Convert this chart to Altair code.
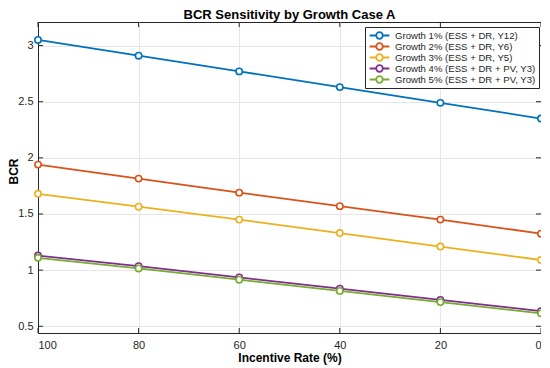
import altair as alt
import pandas as pd

rates = [100, 80, 60, 40, 20, 0]
series_names = [
    "Growth 1% (ESS + DR, Y12)",
    "Growth 2% (ESS + DR, Y6)",
    "Growth 3% (ESS + DR, Y5)",
    "Growth 4% (ESS + DR + PV, Y3)",
    "Growth 5% (ESS + DR + PV, Y3)",
]
g1 = [3.05, 2.91, 2.77, 2.63, 2.49, 2.35]
g2 = [1.94, 1.815, 1.69, 1.57, 1.45, 1.325]
g3 = [1.68, 1.565, 1.45, 1.33, 1.21, 1.09]
g4 = [1.13, 1.035, 0.935, 0.835, 0.735, 0.635]
g5 = [1.11, 1.015, 0.915, 0.815, 0.715, 0.615]
colors = ["#0072BD", "#D95319", "#EDB120", "#7E2F8E", "#77AC30"]
x_ticks = [0, 20, 40, 60, 80, 100]
y_ticks = [0.5, 1, 1.5, 2, 2.5, 3]

rows = []
for i, (name, vals) in enumerate(zip(series_names, [g1, g2, g3, g4, g5])):
    for r, v in zip(rates, vals):
        rows.append({"Series": name, "Rate": r, "BCR": v})
df = pd.DataFrame(rows)
xt = pd.DataFrame({"Rate": x_ticks})
yt = pd.DataFrame({"BCR": y_ticks})

FONT = "Liberation Sans"
W, H = 503, 311
TK = 5

legend_symbol = (
    "M-2.2,0 L-0.73,0 M0.73,0 L2.2,0 "
    "M0.73,0 A0.73,0.73 0 1,1 -0.73,0 A0.73,0.73 0 1,1 0.73,0 Z"
)

xscale = alt.Scale(domain=[0, 100], reverse=True, nice=False)
yscale = alt.Scale(domain=[0.44, 3.21], nice=False, zero=False)
cscale = alt.Scale(domain=series_names, range=colors)

color = alt.Color(
    "Series:N",
    scale=cscale,
    sort=series_names,
    legend=alt.Legend(
        title=None,
        orient="none",
        legendX=327,
        legendY=5,
        symbolType=legend_symbol,
        symbolSize=81,
        symbolStrokeWidth=1.8,
        symbolFillColor="white",
        labelFont=FONT,
        labelFontSize=9.6,
        labelColor="#262626",
        rowPadding=0,
        clipHeight=11,
        padding=3,
        strokeColor="#262626",
        fillColor="white",
        labelOffset=10,
        symbolOffset=6,
    ),
)

x = alt.X(
    "Rate:Q",
    scale=xscale,
    axis=alt.Axis(title="Incentive Rate (%)", values=x_ticks),
)
y = alt.Y(
    "BCR:Q",
    scale=yscale,
    axis=alt.Axis(
        title="BCR",
        values=y_ticks,
        format="~g",
        titleX=-21,
        titleY=149,
        titleAngle=-90,
        titleBaseline="alphabetic",
    ),
)

base = alt.Chart(df)
lines = base.mark_line(strokeWidth=1.8).encode(
    x=x, y=y, color=color, detail="Series:N", order="Rate:Q"
)
points = base.mark_point(
    shape="circle", filled=False, fill="white", size=40, strokeWidth=1.6, opacity=1
).encode(x=x, y=y, color=alt.Color("Series:N", scale=cscale, legend=None))

tick_color = "#262626"
xt_bottom = alt.Chart(xt).mark_rule(color=tick_color, strokeWidth=1).encode(
    x=alt.X("Rate:Q", scale=xscale), y=alt.value(H), y2=alt.value(H - TK)
)
xt_top = alt.Chart(xt).mark_rule(color=tick_color, strokeWidth=1).encode(
    x=alt.X("Rate:Q", scale=xscale), y=alt.value(0), y2=alt.value(TK)
)
yt_left = alt.Chart(yt).mark_rule(color=tick_color, strokeWidth=1).encode(
    y=alt.Y("BCR:Q", scale=yscale), x=alt.value(0), x2=alt.value(TK)
)
yt_right = alt.Chart(yt).mark_rule(color=tick_color, strokeWidth=1).encode(
    y=alt.Y("BCR:Q", scale=yscale), x=alt.value(W), x2=alt.value(W - TK)
)

chart = (
    alt.layer(xt_bottom, xt_top, yt_left, yt_right, lines, points)
    .properties(
        width=W,
        height=H,
        title=alt.TitleParams(
            "BCR Sensitivity by Growth Case A",
            font=FONT,
            fontSize=13,
            fontWeight="bold",
            color="#000000",
            offset=0,
        ),
        autosize=alt.AutoSizeParams(type="none"),
        padding={"left": 30, "top": 14, "right": 0, "bottom": 33},
    )
    .configure_view(stroke="#262626", strokeWidth=1)
    .configure_axis(
        labelFont=FONT,
        labelFontSize=11,
        labelColor="#262626",
        titleFont=FONT,
        titleFontSize=12,
        titleFontWeight="bold",
        titleColor="#000000",
        gridColor="#e6e6e6",
        gridWidth=1,
        domainColor="#262626",
        tickColor="#262626",
        tickSize=0,
        labelPadding=6,
    )
    .configure_axisX(titlePadding=2)
    .configure_axisY(labelPadding=5)
)

chart.save("out.html", embed_options={"renderer": "svg", "actions": False})
